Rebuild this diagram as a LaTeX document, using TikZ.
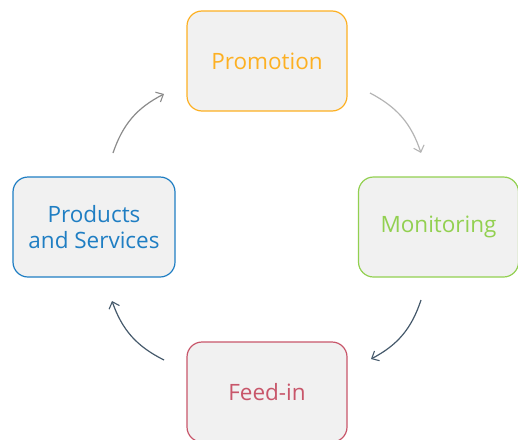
\documentclass[tikz,border=0pt]{standalone}
\usepackage{fontspec}
\setmainfont{Open Sans}
\usetikzlibrary{arrows.meta}
\definecolor{promo}{HTML}{FDB022}
\definecolor{monit}{HTML}{92D050}
\definecolor{prod}{HTML}{1F7EC3}
\definecolor{feed}{HTML}{C8566A}
\definecolor{boxfill}{HTML}{F1F1F1}
\definecolor{lightarrow}{HTML}{B4B4B4}
\definecolor{midarrow}{HTML}{8A8A8A}
\definecolor{darkarrow}{HTML}{45596B}
\tikzset{
  stagebox/.style={draw=#1, text=#1, fill=boxfill, rounded corners=15pt,
    line width=1.2pt, minimum width=160pt, minimum height=100pt,
    align=center, font=\fontsize{22.5}{26}\selectfont, inner sep=0pt},
  cyclearrow/.style={draw=#1, line width=1.2pt, bend left=22,
    -{Straight Barb[length=6pt,width=11pt,line width=1.1pt]}}
}
\begin{document}
\begin{tikzpicture}[x=1pt,y=-1pt]
  \useasboundingbox (0,0) rectangle (518,439);
  % the four stages of the cycle
  \node[stagebox=promo] (promotion) at (267,61) {Promotion};
  \node[stagebox=monit] (monitoring) at (438.5,227) {Monitoring};
  \node[stagebox=prod, minimum width=162pt] (products) at (94,227) {Products\\and Services};
  \node[stagebox=feed] (feedin) at (267,392) {Feed-in};
  % arrow end points in the gaps between the stages
  \coordinate (a1s) at (370,93);  \coordinate (a1e) at (421,153);
  \coordinate (a2s) at (421,300); \coordinate (a2e) at (371,359);
  \coordinate (a3s) at (164,360); \coordinate (a3e) at (112,301);
  \coordinate (a4s) at (113,153); \coordinate (a4e) at (164,94);
  % clockwise flow
  \draw[cyclearrow=lightarrow] (a1s) to (a1e);
  \draw[cyclearrow=darkarrow] (a2s) to (a2e);
  \draw[cyclearrow=darkarrow] (a3s) to (a3e);
  \draw[cyclearrow=midarrow] (a4s) to (a4e);
\end{tikzpicture}
\end{document}
